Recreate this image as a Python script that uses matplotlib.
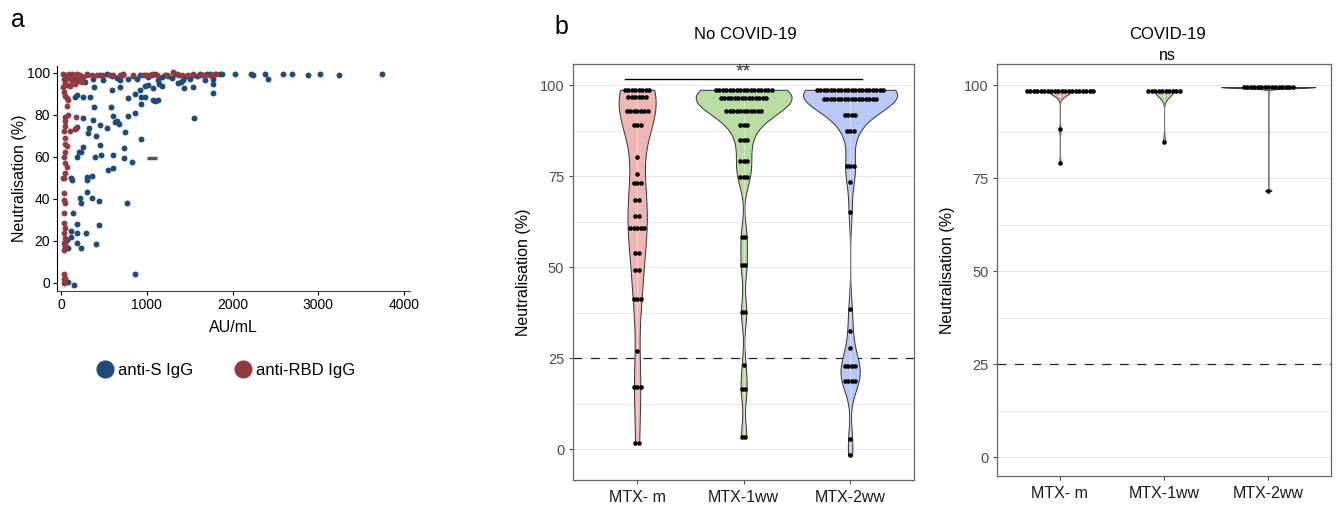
import numpy as np
import matplotlib
matplotlib.use("Agg")
import matplotlib.pyplot as plt
from matplotlib.lines import Line2D

plt.rcParams['font.family'] = ['Liberation Sans', 'DejaVu Sans']

# ============================================================
# Data - panel a (AU/mL vs neutralisation)
# ============================================================
s_igg_x = [300, 377, 454, 493, 532, 594, 650, 687, 726, 784, 842, 881, 920, 979, 1017,
           1056, 1095, 1134, 1177, 1215, 1250, 1290, 1330, 1380, 1420, 1460, 1500, 1540,
           1580, 1620, 1660, 1700, 1740, 1790, 1850, 1880, 2027, 2221, 2235, 2376, 2408,
           2590, 2695, 2881, 3017, 3238, 3747, 150, 200, 250, 280,
           1775, 1677, 1767, 1767, 1549, 1542, 1433, 1367, 1400, 1177, 1146, 1134, 1095,
           1068, 1076, 1017, 979, 920, 928, 979, 862, 932, 932, 862, 776, 776, 745, 733,
           733, 823, 765, 862,
           610, 648, 610, 579, 591, 532, 551, 610, 671, 632, 687,
           454, 462, 454, 408, 396, 384, 369, 384, 357, 439, 439, 408,
           330, 319, 338, 260, 260, 252, 229, 213, 190, 307, 307, 357, 307, 221, 237, 143,
           182, 120, 112, 182, 291, 190, 229, 66, 85, 47, 116, 182, 163, 85, 151, 124, 183,
           163]
s_igg_y = [99.5, 97.1, 98.7, 96.3, 99.3, 98.5, 97.5, 96.3, 99.3, 97.1, 98.5, 97.1, 98.8,
           99.0, 97.8, 98.8, 99.3, 96.5, 97.8, 99.0, 98.5, 97.5, 99.3, 98.8, 96.3, 98.2,
           97.2, 99.0, 98.5, 99.3, 98.8, 99.5, 99.3, 99.6, 99.6, 99.5, 99.2, 99.2, 98.7,
           99.2, 96.8, 99.6, 99.5, 98.7, 99.5, 98.7, 99.5, 97.0, 96.0, 98.0, 95.5,
           96.8, 96.5, 94.4, 90.5, 78.4, 93.0, 92.5, 94.9, 95.5, 93.7, 94.6, 87.0, 86.7,
           87.0, 92.5, 94.1, 93.9, 92.0, 88.6, 88.6, 89.7, 84.9, 68.3, 80.6, 88.1, 79.4,
           71.9, 64.0, 59.5, 57.3, 37.8, 4.1,
           60.8, 77.1, 79.4, 83.8, 91.7, 73.5, 53.7, 54.4, 75.7, 76.5, 93.1,
           65.6, 60.8, 75.1, 69.8, 60.0, 83.8, 77.5, 93.3, 40.2, 38.9, 27.5, 18.3,
           73.5, 71.4, 88.6, 88.6, 78.3, 64.8, 62.1, 62.4, 60.0, 50.5, 48.9, 50.8, 43.0,
           40.2, 37.8, 33.0, 27.9, 24.8, 21.9, 23.5, 23.5, 19.0, 16.3, 20.3, 16.3, 17.9,
           50.0, 74.3, 88.6, 0.5, -1.1, 48.7, 89.2, 73.3]

rbd_igg_x = [47, 66, 105, 163, 221, 260, 299, 357, 415, 493, 571, 610, 687, 726, 843, 959,
             998, 1036, 1056, 1114, 1231, 1309, 1347, 1406, 1483, 1542, 1619, 1677, 1736,
             1813, 20, 30, 80, 90, 130, 190, 120,
             47, 66, 124, 143, 163, 200, 240, 100, 20, 47, 66, 85, 30, 66, 85, 47, 47, 175,
             175, 47, 30, 105, 47, 47, 66, 47, 30, 47, 66, 47, 30, 27, 30, 30, 47, 30, 30,
             47, 30, 47, 30, 47, 30, 47, 30, 47, 30, 30]
rbd_igg_y = [98.8, 98.0, 98.8, 98.8, 98.8, 98.0, 98.8, 98.8, 98.8, 98.8, 99.0, 99.1, 98.8,
             98.8, 99.1, 99.1, 99.0, 99.1, 99.2, 99.1, 99.0, 100.5, 99.2, 99.0, 99.0, 99.2,
             99.0, 99.0, 99.1, 99.2, 99.5, 97.0, 97.5, 99.5, 99.2, 99.5, 97.0,
             95.0, 94.0, 96.0, 95.5, 94.5, 96.5, 95.5, 93.5, 93.0, 89.0, 88.0, 87.0, 91.0,
             84.0, 80.0, 79.0, 77.0, 79.0, 73.8, 74.5, 72.0, 72.0, 69.0, 66.0, 65.0, 62.0,
             60.0, 57.0, 55.0, 52.0, 50.0, 49.7, 42.6, 39.4, 37.8, 33.0, 28.3, 25.9, 23.5,
             21.1, 18.8, 17.1, 15.6, 19.5, 4.0, 2.1, -0.3, 1.5]

stray_x = [1057]
stray_y = [59.2]

# ============================================================
# Data - panel b (dot rows: value, number of dots)
# ============================================================
groups = ["MTX- m", "MTX-1ww", "MTX-2ww"]

nocov_m_y = [98.8, 96.8, 92.9, 89.2, 80.3, 75.7, 73.2, 68.6, 64.2, 60.7, 53.8, 49.2, 41.3, 27.1, 17.0, 1.8]
nocov_m_n = [8, 6, 7, 3, 1, 1, 3, 2, 2, 5, 2, 2, 3, 1, 3, 2]
nocov_1ww_y = [98.8, 96.5, 93.1, 89.2, 84.9, 79.2, 74.8, 58.3, 50.5, 37.6, 23.0, 16.5, 3.4]
nocov_1ww_n = [17, 14, 11, 3, 3, 3, 3, 2, 2, 2, 1, 2, 2]
nocov_2ww_y = [98.8, 96.4, 91.8, 87.6, 77.9, 73.5, 65.2, 38.5, 32.5, 27.8, 22.9, 18.8, 2.9, -1.7]
nocov_2ww_n = [20, 16, 4, 3, 3, 1, 1, 1, 1, 1, 4, 4, 1, 1]

# ============================================================
# Data - panel c (COVID-19)
# ============================================================
cov_m_y = [98.5, 88.1, 79.1]
cov_m_n = [20, 1, 1]
cov_1ww_y = [98.4, 84.8]
cov_1ww_n = [10, 1]
cov_2ww_y = [99.5, 71.6]
cov_2ww_n = [15, 1]
cov_open_y = [97.0, 97.0]
cov_bw = [1.2, 1.5, 0.3]

fills = ["#EDB8B3", "#B8DDA5", "#B9C9F6"]
open_edges = ["#E8908A", "#8CC97A"]


def nrd0(v):
    v = np.asarray(v, float)
    q75, q25 = np.percentile(v, [75, 25])
    sd = v.std(ddof=1)
    lo = min(sd, (q75 - q25) / 1.34)
    if lo == 0:
        lo = sd
    return 0.9 * lo * len(v) ** -0.2


def kde(v, grid, bw):
    v = np.asarray(v, float)[:, None]
    k = np.exp(-0.5 * ((grid[None, :] - v) / bw) ** 2)
    return k.sum(0) / (len(v) * bw * np.sqrt(2 * np.pi))


def violins_and_dots(ax, rows, counts, bws, dot_w):
    dens = []
    for ys, ns, bw in zip(rows, counts, bws):
        vals = np.repeat(ys, ns)
        grid = np.linspace(vals.min(), vals.max(), 512)
        dens.append((grid, kde(vals, grid, bw)))
    dmax = max(d.max() for _, d in dens)
    for i, (grid, d) in enumerate(dens):
        w = 0.45 * d / dmax
        ax.fill_betweenx(grid, i + 1 - w, i + 1 + w, facecolor=fills[i],
                         edgecolor="#333333", lw=0.7, zorder=2)
        ax.plot([i + 1, i + 1], [grid.min(), grid.max()], color="white", lw=0.8,
                alpha=0.35, zorder=2.5)
    for i, (ys, ns) in enumerate(zip(rows, counts)):
        for y, n in zip(ys, ns):
            xs = i + 1 + (np.arange(n) - (n - 1) / 2) * dot_w
            ax.scatter(xs, np.full(n, y), s=11, color="black", lw=0, zorder=3)


def style_box(ax, ylim):
    ax.set_xlim(0.4, 3.6)
    ax.set_ylim(*ylim)
    ax.set_yticks([0, 25, 50, 75, 100])
    ax.set_yticks([12.5, 37.5, 62.5, 87.5], minor=True)
    ax.set_xticks([1, 2, 3])
    ax.set_xticklabels(groups, fontsize=11.5, color="#1a1a1a")
    ax.tick_params(axis="y", which="major", labelsize=10.5, labelcolor="#4D4D4D",
                   color="#4D4D4D", length=3, width=0.8)
    ax.tick_params(axis="y", which="minor", length=0)
    ax.tick_params(axis="x", color="#4D4D4D", length=3, width=0.8, pad=4)
    ax.grid(axis="y", which="both", color="#E8E8E8", lw=0.7, zorder=0)
    ax.set_axisbelow(True)
    for sp in ax.spines.values():
        sp.set_color("#666666")
        sp.set_linewidth(0.9)
    ax.axhline(25, color="#222222", lw=0.9, dashes=(7, 7), zorder=1)
    ax.set_ylabel("Neutralisation (%)", fontsize=11.5, labelpad=6)


fig = plt.figure(figsize=(13.4, 5.05), dpi=100, facecolor="white")

# ============================================================
# a: scatter
# ============================================================
ax_a = fig.add_axes([0.0425, 0.4238, 0.2634, 0.4455])
ax_a.scatter(s_igg_x, s_igg_y, s=18, color="#1E4B78", lw=0, zorder=3)
ax_a.scatter(rbd_igg_x, rbd_igg_y, s=18, color="#913A40", lw=0, zorder=4)
ax_a.plot(stray_x, stray_y, marker="_", ms=7, mew=2.5, color="#555555", ls="none")
ax_a.set_xlim(-47, 4068)
ax_a.set_ylim(-4, 103.2)
ax_a.set_xticks([0, 1000, 2000, 3000, 4000])
ax_a.set_yticks([0, 20, 40, 60, 80, 100])
ax_a.tick_params(labelsize=10, length=3, width=0.8, pad=2)
for side in ["top", "right"]:
    ax_a.spines[side].set_visible(False)
ax_a.spines["left"].set_color("black")
ax_a.spines["bottom"].set_color("#444444")
ax_a.set_xlabel("AU/mL", fontsize=11.5, labelpad=6)
ax_a.set_ylabel("Neutralisation (%)", fontsize=11.5)
ax_a.yaxis.set_label_coords(-0.085, 0.5)

handles = [Line2D([], [], marker="o", ls="none", ms=12, color="#1E4B78"),
           Line2D([], [], marker="o", ls="none", ms=12, color="#913A40")]
fig.legend(handles, ["anti-S IgG", "anti-RBD IgG"], loc="center",
           bbox_to_anchor=(0.168, 0.266), ncol=2, frameon=False, fontsize=12,
           handletextpad=0.2, columnspacing=2.4, handlelength=1.2)

# ============================================================
# b: No COVID-19
# ============================================================
ax_b = fig.add_axes([0.4278, 0.0495, 0.2543, 0.8238])
violins_and_dots(ax_b,
                 [nocov_m_y, nocov_1ww_y, nocov_2ww_y],
                 [nocov_m_n, nocov_1ww_n, nocov_2ww_n],
                 [nrd0(np.repeat(y, n)) * 0.7 for y, n in
                  [(nocov_m_y, nocov_m_n), (nocov_1ww_y, nocov_1ww_n), (nocov_2ww_y, nocov_2ww_n)]],
                 0.0329)
style_box(ax_b, (-8.5, 105.9))
ax_b.plot([0.884, 3.111], [101.8, 101.8], color="black", lw=1.0, zorder=4)
ax_b.text(2.0, 103.7, "**", ha="center", va="center", fontsize=14, color="#333333")

# ============================================================
# c: COVID-19
# ============================================================
ax_c = fig.add_axes([0.7443, 0.0574, 0.2488, 0.8152])
violins_and_dots(ax_c,
                 [cov_m_y, cov_1ww_y, cov_2ww_y],
                 [cov_m_n, cov_1ww_n, cov_2ww_n],
                 cov_bw, 0.0335)
ax_c.scatter([1, 2], cov_open_y, s=9, facecolor="white", edgecolor=open_edges,
             lw=0.8, zorder=4)
style_box(ax_c, (-5.0, 105.6))

# ============================================================
# Labels and titles
# ============================================================
fig.text(0.0134, 0.96, "a", fontsize=18, ha="center", va="center")
fig.text(0.419, 0.947, "b", fontsize=18, ha="center", va="center")
fig.text(0.5565, 0.931, "No COVID-19", fontsize=12, ha="center", va="center")
fig.text(0.8714, 0.931, "COVID-19", fontsize=12, ha="center", va="center")
fig.text(0.8714, 0.891, "ns", fontsize=11.5, ha="center", va="center")

fig.savefig("out.png", dpi=100, facecolor="white")
